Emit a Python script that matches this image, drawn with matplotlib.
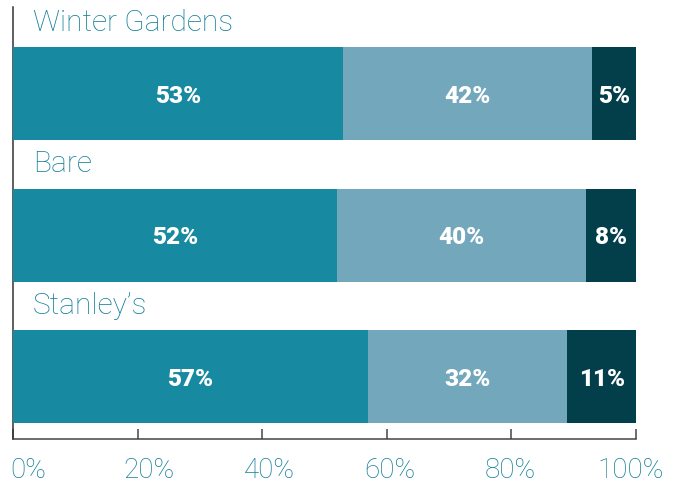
import numpy as np
import matplotlib.pyplot as plt
import matplotlib.transforms as mtransforms

# data (bar widths as drawn, labels as printed)
categories = ['Winter Gardens', 'Bare', "Stanley\u2019s"]
share_a = [53, 52, 57]
share_b = [40, 40, 32]
share_c = [7, 8, 11]
label_a = ['53%', '52%', '57%']
label_b = ['42%', '40%', '32%']
label_c = ['5%', '8%', '11%']
tick_vals = [0, 20, 40, 60, 80, 100]
tick_labels = ['0%', '20%', '40%', '60%', '80%', '100%']

colors = ['#1789a0', '#73a7bb', '#033f4b']
text_teal = '#127e98'

plt.rcParams['font.family'] = ['Roboto', 'DejaVu Sans']

fig = plt.figure(figsize=(6.83, 4.88), dpi=100)
ax = fig.add_axes([0.019, 0.1004, 0.9122, 0.8853])

ypos = np.arange(len(categories))
bar_h = 0.657
left = np.zeros(len(categories))
for vals, labs, col in zip([share_a, share_b, share_c],
                           [label_a, label_b, label_c], colors):
    ax.barh(ypos, vals, height=bar_h, left=left, color=col, zorder=3)
    for y, l, v, t in zip(ypos, left, vals, labs):
        ax.text(l + v / 2, y + 0.02, t, ha='center', va='center',
                color='white', fontsize=17.5, fontweight='heavy', zorder=4)
    left = left + np.array(vals)

for y, name in zip(ypos, categories):
    ax.text(3.2, y - 0.5, name, ha='left', va='center', color=text_teal,
            fontsize=21.5, fontweight='light')

ax.set_xlim(0, 100)
ax.set_ylim(2 + 0.44, -0.61)
ax.set_yticks([])
ax.set_xticks(tick_vals)
ax.set_xticklabels(tick_labels)
ax.tick_params(axis='x', direction='in', length=7.5, width=1.1, color='#444444',
               pad=13, labelsize=20, labelcolor=text_teal)
# labels in the reference sit a little right of the ticks at the left end
n = len(tick_vals) - 1
for k, lab in enumerate(ax.get_xticklabels()):
    lab.set_fontweight('light')
    dx = (11 - 15 * k / n) / 72
    lab.set_transform(lab.get_transform() +
                      mtransforms.ScaledTranslation(dx, 0, fig.dpi_scale_trans))

for s in ['top', 'right']:
    ax.spines[s].set_visible(False)
ax.spines['left'].set_color('#333333')
ax.spines['bottom'].set_color('#444444')
ax.spines['left'].set_linewidth(1.1)
ax.spines['bottom'].set_linewidth(1.1)

fig.savefig('out.png', dpi=100)
